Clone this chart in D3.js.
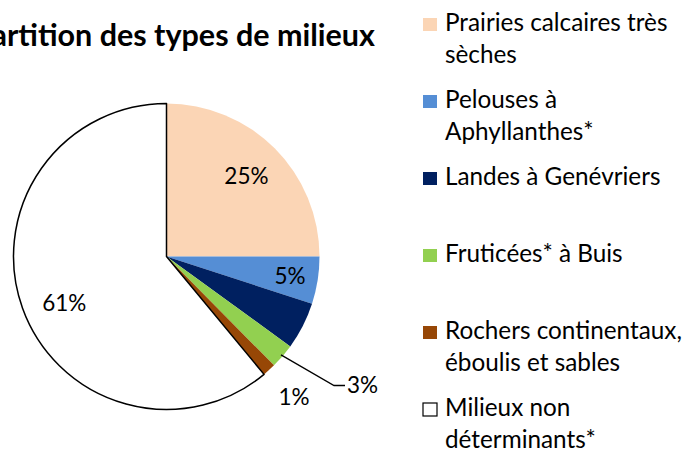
<!DOCTYPE html>
<html>
<head>
<meta charset="utf-8">
<script src="https://cdn.jsdelivr.net/npm/d3@7"></script>
<style>
  body { margin: 0; background: #fff; }
  svg { display: block; font-family: Lato, "Open Sans", sans-serif; }
</style>
</head>
<body>
<svg id="chart" width="690" height="450"></svg>
<script>
// data
const categories = [
    "Prairies calcaires très sèches",
    "Pelouses à Aphyllanthes*",
    "Landes à Genévriers",
    "Fruticées* à Buis",
    "Rochers continentaux, éboulis et sables",
    "Milieux non déterminants*"
];
const values = [25, 5, 5, 2.6, 1.4, 61];
const legendLines = [
    ["Prairies calcaires très", "sèches"],
    ["Pelouses à", "Aphyllanthes*"],
    ["Landes à Genévriers"],
    ["Fruticées* à Buis"],
    ["Rochers continentaux,", "éboulis et sables"],
    ["Milieux non", "déterminants*"]
];
const showLabel = [true, true, false, true, true, true];
const colors = ["#fbd5b5", "#558ed5", "#002060", "#92d050", "#974706", "#ffffff"];

function makeChart() {
    let svg = d3.select("#chart");
    let cx = 166.5, cy = 256.5, radius = 153;

    let data = categories.map((c, i) => ({ name: c, value: values[i], i: i }));

    let pie = d3.pie().sort(null).value(d => d.value);
    let arcs = pie(data);

    let arc = d3.arc().innerRadius(0).outerRadius(radius);

    let g = svg.append("g")
        .attr("transform", `translate(${cx},${cy})`);

    // slices
    g.selectAll(".slice")
        .data(arcs)
        .enter().append("path")
        .attr("class", "slice")
        .attr("d", arc)
        .attr("fill", d => colors[d.index])
        .attr("stroke", d => d.index === 5 ? "#000" : "none")
        .attr("stroke-width", 1.5)
        .attr("stroke-linejoin", "round");

    let fmt = v => Math.round(v) + "%";
    let polar = (a, r) => [Math.sin(a) * r, -Math.cos(a) * r];

    // labels inside / outside
    arcs.forEach(d => {
        if (!showLabel[d.index]) return;
        let mid = (d.startAngle + d.endAngle) / 2;
        if (d.index === 3) {
            // leader line for the small green slice
            let p0 = polar(mid, radius - 2);
            let p1 = [167.5, 129];
            let p2 = [178.5, 129];
            g.append("polyline")
                .attr("points", [p0, p1, p2].map(p => p.join(",")).join(" "))
                .attr("fill", "none")
                .attr("stroke", "#000")
                .attr("stroke-width", 1.3);
            g.append("text")
                .attr("x", p2[0] + 2)
                .attr("y", p2[1])
                .attr("dy", "0.35em")
                .attr("font-size", "22.5px")
                .attr("fill", "#000")
                .text(fmt(d.value));
            return;
        }
        let r = d.index === 4 ? 190 : (d.index === 1 ? 125 : 113);
        let p = polar(mid, r);
        if (d.index === 5) p = [p[0] + 4, p[1] + 8];
        g.append("text")
            .attr("x", p[0])
            .attr("y", p[1])
            .attr("dy", "0.35em")
            .attr("text-anchor", "middle")
            .attr("font-size", "22.5px")
            .attr("fill", "#000")
            .text(fmt(d.value));
    });

    // title (runs off the left edge, as in the original)
    svg.append("text")
        .attr("x", 375)
        .attr("y", 46)
        .attr("text-anchor", "end")
        .attr("font-size", "30.5px")
        .attr("font-weight", "bold")
        .attr("fill", "#000")
        .text("Répartition des types de milieux");

    // legend
    let legend = svg.append("g");
    legendLines.forEach((lines, i) => {
        let y0 = 31 + i * 77;
        legend.append("rect")
            .attr("x", 423)
            .attr("y", y0 - 13)
            .attr("width", 14)
            .attr("height", 13)
            .attr("fill", colors[i])
            .attr("stroke", i === 5 ? "#000" : "none")
            .attr("stroke-width", 1.2);
        lines.forEach((t, j) => {
            legend.append("text")
                .attr("x", 445)
                .attr("y", y0 + j * 32.3)
                .attr("font-size", "24.3px")
                .attr("fill", "#000")
                .text(t);
        });
    });
}

makeChart();
</script>
</body>
</html>
